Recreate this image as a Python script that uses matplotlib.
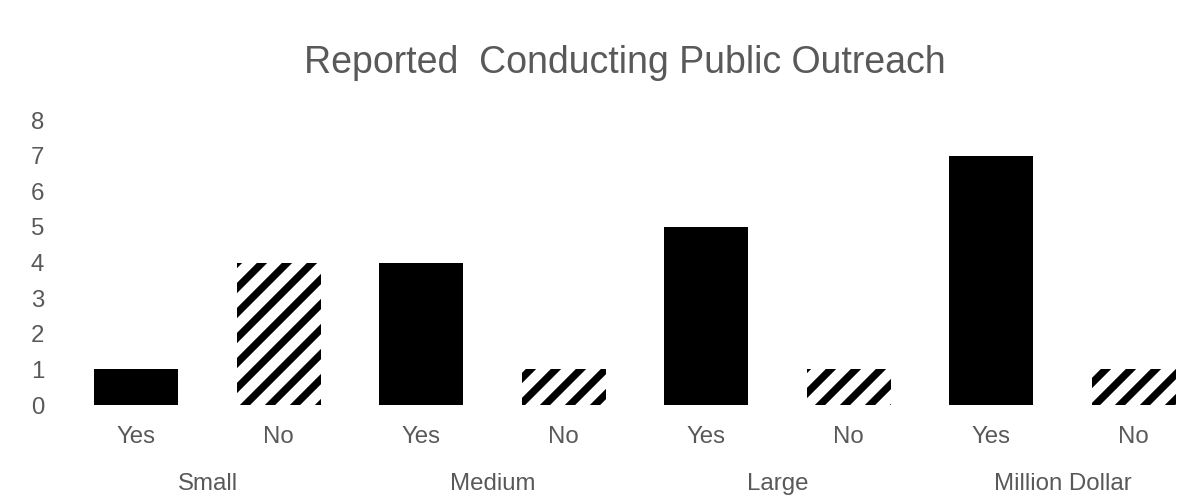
import matplotlib
matplotlib.use("Agg")
import matplotlib.pyplot as plt
from matplotlib.transforms import blended_transform_factory

# Survey results: organisations reporting whether they conduct public outreach
groups = ["Small", "Medium", "Large", "Million Dollar"]
answers = ["Yes", "No"]
yes_counts = [1, 4, 5, 7]
no_counts = [4, 1, 1, 1]
y_ticks = [0, 1, 2, 3, 4, 5, 6, 7, 8]
title = "Reported  Conducting Public Outreach"

DPI = 150
W, H = 1177, 495
TEXT = "#595959"

plt.rcParams["font.family"] = ["Liberation Sans", "DejaVu Sans"]
plt.rcParams["hatch.linewidth"] = 3.5
plt.rcParams["hatch.color"] = "black"

fig = plt.figure(figsize=(W / DPI, H / DPI), dpi=DPI)
left_px, bottom_px, top_px = 65, 90, 405
ax = fig.add_axes([left_px / W, (H - top_px) / H, (W - left_px) / W, (top_px - bottom_px) / H])

slot_px = 142.5
bar_w = 84 / slot_px

# interleave Yes / No bars per group
for gi, grp in enumerate(groups):
    xy = 2 * gi
    ax.bar(xy, yes_counts[gi], width=bar_w, color="black", edgecolor="none", linewidth=0)
    ax.bar(xy + 1, no_counts[gi], width=bar_w, color="white", edgecolor="black",
           hatch="//", linewidth=0)

px_per_unit = (405 - 120) / 8
ax.set_ylim(0, (top_px - bottom_px) / px_per_unit)
ax.set_xlim(-0.5, -0.5 + (W - left_px) / slot_px)

ax.set_yticks(y_ticks)
ax.set_yticklabels([str(t) for t in y_ticks])
ax.set_xticks(range(2 * len(groups)))
ax.set_xticklabels(answers * len(groups))
ax.tick_params(axis="both", length=0, colors=TEXT, labelsize=11.5)
ax.tick_params(axis="y", pad=10)
ax.tick_params(axis="x", pad=10)
for s in ax.spines.values():
    s.set_visible(False)

trans = blended_transform_factory(ax.transData, fig.transFigure)
for gi, grp in enumerate(groups):
    ax.text(2 * gi + 0.5, 1 - 484 / H, grp, transform=trans, ha="center", va="center",
            color=TEXT, fontsize=11.5)

fig.text(625 / W, 1 - 63 / H, title, ha="center", va="center", color=TEXT, fontsize=18)

fig.savefig("out.png", dpi=DPI)
